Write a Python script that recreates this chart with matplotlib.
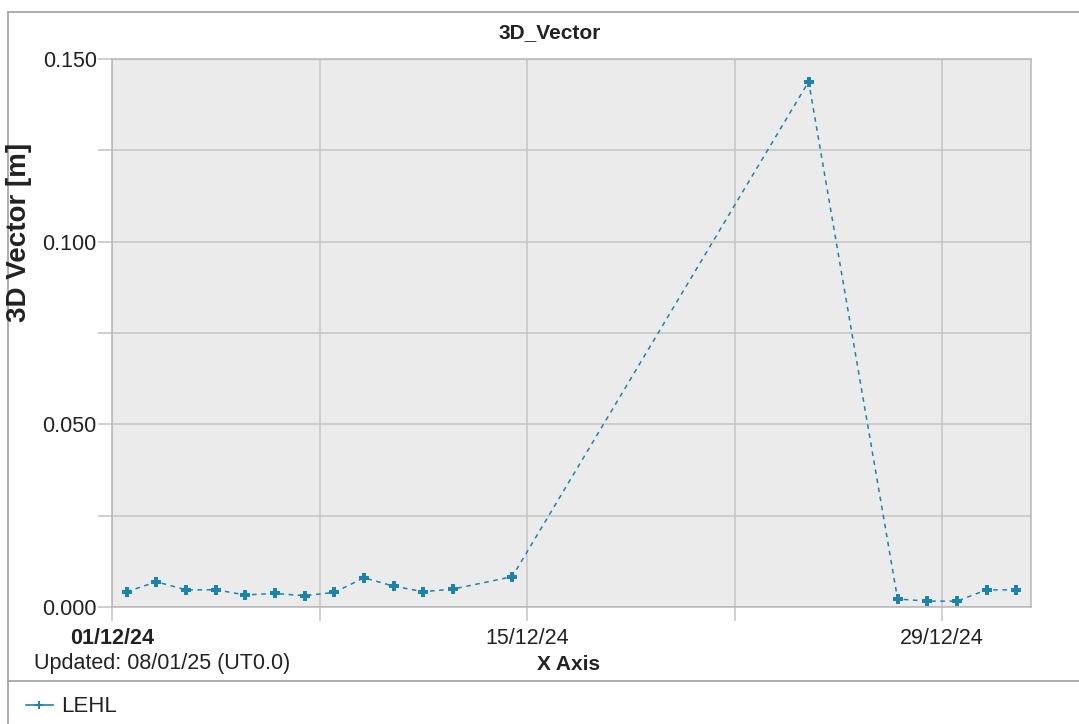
import pandas as pd
import matplotlib
matplotlib.use("Agg")
import matplotlib.pyplot as plt
import matplotlib.dates as mdates
from matplotlib.lines import Line2D
from matplotlib.ticker import MultipleLocator

plt.rcParams["font.family"] = ["Liberation Sans", "DejaVu Sans"]

# data
dates = [
    "2024-12-01 12:00", "2024-12-02 12:00", "2024-12-03 12:00", "2024-12-04 12:00",
    "2024-12-05 12:00", "2024-12-06 12:00", "2024-12-07 12:00", "2024-12-08 12:00",
    "2024-12-09 12:00", "2024-12-10 12:00", "2024-12-11 12:00", "2024-12-12 12:00",
    "2024-12-14 12:00", "2024-12-24 12:00", "2024-12-27 12:00", "2024-12-28 12:00",
    "2024-12-29 12:00", "2024-12-30 12:00", "2024-12-31 12:00",
]
vector_3d = [
    0.0042, 0.0069, 0.0047, 0.0047, 0.0033, 0.0037, 0.0031, 0.0040,
    0.0080, 0.0057, 0.0042, 0.0049, 0.0083, 0.1438, 0.0022, 0.0016,
    0.0016, 0.0047, 0.0047,
]
series_name = "LEHL"
tick_dates = ["2024-12-01", "2024-12-15", "2024-12-29"]
grid_dates = ["2024-12-08", "2024-12-22"]

W, H = 1079, 724
LINE_COLOR = "#1a84ad"
GRID = "#c4c4c4"
TEXT = "#222222"

fig = plt.figure(figsize=(W / 100, H / 100), dpi=100)

# outer frame and legend separator
fig.add_artist(Line2D([8 / W, 1], [1 - 12 / H, 1 - 12 / H], color="#a0a0a0", lw=1.2))
fig.add_artist(Line2D([8 / W, 8 / W], [0, 1 - 12 / H], color="#a0a0a0", lw=1.2))
fig.add_artist(Line2D([8 / W, 1], [1 - 681 / H, 1 - 681 / H], color="#a0a0a0", lw=1.2))

left, right, top, bottom = 112, 1031, 59, 607
ax = fig.add_axes([left / W, 1 - bottom / H, (right - left) / W, (bottom - top) / H])
ax.set_facecolor("#ebebeb")

x = pd.to_datetime(dates)
ax.plot(x, vector_3d, color=LINE_COLOR, lw=1.1, ls=(0, (3, 3)),
        marker="P", markersize=6.5, markeredgewidth=0, label=series_name)

ax.set_xlim(pd.Timestamp("2024-12-01"), pd.Timestamp("2025-01-01"))
ax.set_ylim(0, 0.150)

ax.set_xticks(mdates.date2num(pd.to_datetime(tick_dates)))
ax.set_xticklabels([pd.Timestamp(d).strftime("%d/%m/%y") for d in tick_dates])
ax.set_xticks(mdates.date2num(pd.to_datetime(grid_dates)), minor=True)
ax.xaxis.get_ticklabels()[0].set_fontweight("bold")

ax.yaxis.set_major_locator(MultipleLocator(0.05))
ax.yaxis.set_minor_locator(MultipleLocator(0.025))
ax.yaxis.set_major_formatter(lambda v, p: f"{v:.3f}")

ax.grid(True, which="both", color=GRID, lw=1.1)
ax.set_axisbelow(True)
ax.tick_params(which="both", length=10, width=1.1, color=GRID, labelsize=15.5,
               labelcolor=TEXT)
ax.tick_params(axis="x", pad=5)
ax.tick_params(axis="y", pad=1)
for s in ax.spines.values():
    s.set_color("#b8b8b8")
    s.set_linewidth(1.1)

fig.text(550 / W, 1 - 33 / H, "3D_Vector", fontsize=15, fontweight="bold",
         color=TEXT, ha="center", va="center")
fig.text(569 / W, 1 - 664 / H, "X Axis", fontsize=15, fontweight="bold",
         color=TEXT, ha="center", va="center")
fig.text(19 / W, 1 - 232 / H, "3D Vector [m]", rotation=90, fontsize=20,
         fontweight="bold", color=TEXT, ha="center", va="center")
fig.text(34 / W, 1 - 664 / H, "Updated: 08/01/25 (UT0.0)", fontsize=15.5,
         color=TEXT, ha="left", va="center")

fig.legend(handles=[Line2D([], [], color=LINE_COLOR, lw=1.2, marker="P",
                           markersize=6, markeredgewidth=0)],
           labels=[series_name], loc="center left", bbox_to_anchor=(6 / W, 1 - 707 / H),
           frameon=False, fontsize=16, handlelength=1.2, handletextpad=0.4,
           labelcolor=TEXT)

fig.savefig("out.png", dpi=100)
